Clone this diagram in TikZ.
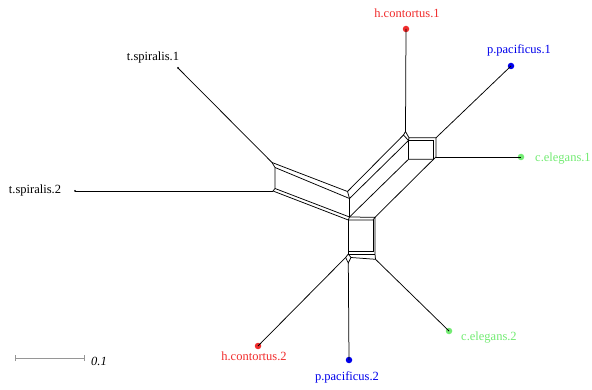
\documentclass[tikz,border=0pt]{standalone}
\usepackage{fontspec}
\setmainfont{Liberation Serif}
\definecolor{hred}{RGB}{240,45,45}
\definecolor{pblue}{RGB}{0,0,235}
\definecolor{cgreen}{RGB}{115,235,115}
\definecolor{bargray}{RGB}{150,150,150}
\begin{document}
\begin{tikzpicture}[x=1pt,y=-1pt,
  edge/.style={line width=0.75pt, black},
  lbl/.style={font=\fontsize{12.5}{14}\selectfont, inner sep=0pt},
  tip/.style={circle, fill, inner sep=0pt, minimum size=6.5pt},
  smalltip/.style={circle, fill, inner sep=0pt, minimum size=2pt}]
\useasboundingbox (0,0) rectangle (592,390);

% taxa (leaf dots)
\node[smalltip] (ts1) at (178,68) {};
\node[smalltip] (ts2) at (75,191) {};
\node[tip,hred] (hc1) at (406,29) {};
\node[tip,pblue] (pp1) at (511,66) {};
\node[tip,cgreen] (ce1) at (521,157) {};
\node[tip,cgreen] (ce2) at (449,331) {};
\node[tip,pblue] (pp2) at (349,360) {};
\node[tip,hred] (hc2) at (258,346) {};

% taxon labels
\node[lbl] (lts1) at (153,57) {t.spiralis.1};
\node[lbl] (lts2) at (35,190) {t.spiralis.2};
\node[lbl,text=hred] (lhc1) at (407,13) {h.contortus.1};
\node[lbl,text=pblue] (lpp1) at (519,50) {p.pacificus.1};
\node[lbl,text=cgreen,anchor=west] (lce1) at (535,159) {c.elegans.1};
\node[lbl,text=cgreen,anchor=west] (lce2) at (461,338) {c.elegans.2};
\node[lbl,text=pblue] (lpp2) at (347,377) {p.pacificus.2};
\node[lbl,text=hred] (lhc2) at (254,356) {h.contortus.2};

% split network: left block
\coordinate (A1) at (272,162.5);
\coordinate (A2) at (275,167.5);
\coordinate (A3) at (275,188.5);
\coordinate (A4) at (273,191);
% centre
\coordinate (C1) at (347.5,191.5);
\coordinate (C2) at (349.5,198.5);
\coordinate (C3) at (349.5,217);
\coordinate (C4) at (348.3,220);
% upper right box
\coordinate (H1) at (405.5,131.5);
\coordinate (H1L) at (403.5,135);
\coordinate (H1R) at (409,137.8);
\coordinate (D2) at (408.5,140.5);
\coordinate (D3) at (408.5,159.3);
\coordinate (P1a) at (436,137.8);
\coordinate (P1b) at (433.5,140.5);
\coordinate (Q1) at (433.5,159.3);
\coordinate (Q2) at (436,157);
% lower box
\coordinate (E1) at (375,217.3);
\coordinate (E2) at (373,220);
\coordinate (B1) at (348.3,251.7);
\coordinate (B2) at (373,251.7);
\coordinate (B1b) at (348.3,254);
\coordinate (B2b) at (375,254);
\coordinate (DL) at (345.6,257.5);
\coordinate (DB) at (348.3,263);
\coordinate (DR) at (351,257.5);
\coordinate (BR) at (375.5,259.3);

% pendant edges
\draw[edge] (ts1.center) -- (A1);
\draw[edge] (ts2.center) -- (A4);
\draw[edge] (hc1.center) -- (H1);
\draw[edge] (pp1.center) -- (P1a);
\draw[edge] (ce1.center) -- (Q2);
\draw[edge] (hc2.center) -- (DL);
\draw[edge] (pp2.center) -- (DB);
\draw[edge] (ce2.center) -- (BR);

% left block
\draw[edge] (A1) -- (A2) -- (A3) -- (A4);
\draw[edge] (A1) -- (C1);
\draw[edge] (A2) -- (C2);
\draw[edge] (A3) -- (C3);
\draw[edge] (A4) -- (C4);
% centre
\draw[edge] (C1) -- (C2) -- (C3) -- (C4);
% band to the upper right
\draw[edge] (C1) -- (H1L);
\draw[edge] (C2) -- (D2);
\draw[edge] (C3) -- (D3);
\draw[edge] (E1) -- (Q1);
% upper right box
\draw[edge] (H1) -- (H1L) -- (D2) -- (H1R) -- cycle;
\draw[edge] (H1R) -- (P1a) -- (Q2) -- (Q1) -- (P1b) -- (D2) -- (D3) -- (Q1);
% lower box
\draw[edge] (C3) -- (E1) -- (E2) -- (C4);
\draw[edge] (C4) -- (B1) -- (B2) -- (E2);
\draw[edge] (E1) -- (B2b) -- (BR);
\draw[edge] (B1) -- (B1b) -- (B2b);
\draw[edge] (B1b) -- (DL) -- (DB) -- (DR) -- cycle;
\draw[edge] (DR) -- (BR);

% scale bar
\coordinate (s0) at (15,358);
\coordinate (s1) at (84,358);
\draw[bargray, line width=0.75pt] (s0) -- (s1);
\draw[bargray, line width=0.75pt] ([yshift=-3pt]s0) -- ([yshift=3pt]s0);
\draw[bargray, line width=0.75pt] ([yshift=-3pt]s1) -- ([yshift=3pt]s1);
\node[lbl,anchor=west] (sbl) at (91,361) {\itshape 0.1};
\end{tikzpicture}
\end{document}
